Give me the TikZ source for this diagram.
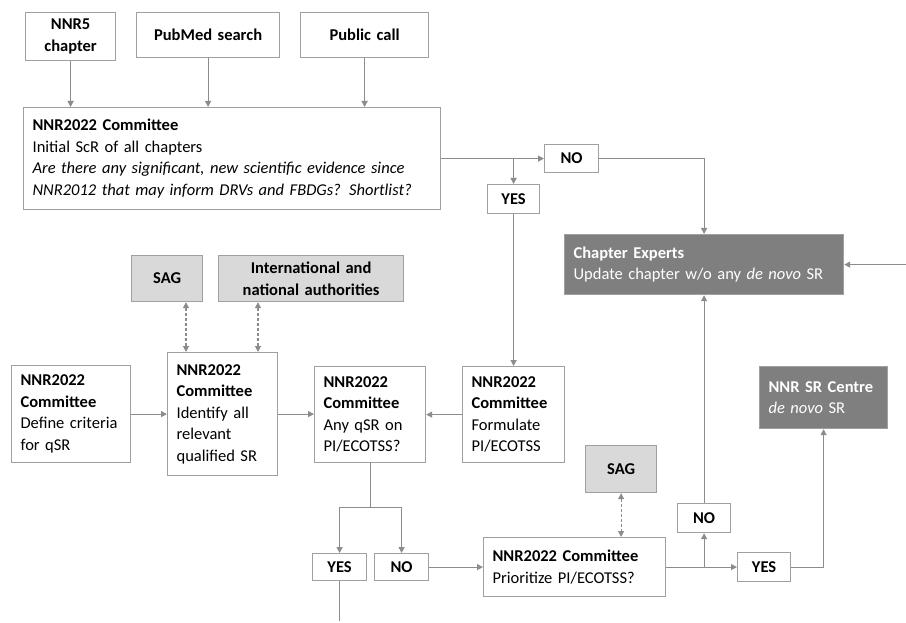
\documentclass[tikz,border=0pt]{standalone}
\usepackage{fontspec}
\setmainfont{Carlito}
\usetikzlibrary{arrows.meta}
\definecolor{linegray}{HTML}{8C8C8C}
\definecolor{bordergray}{HTML}{A0A0A0}
\definecolor{darkfill}{HTML}{7F7F7F}
\definecolor{lightfill}{HTML}{D9D9D9}
\hyphenpenalty=10000
\exhyphenpenalty=10000
\tikzset{
  base/.style={draw=bordergray, line width=1.2pt, inner xsep=9pt, inner ysep=0pt,
    anchor=north west, align=left, font=\fontsize{16.5pt}{21.5pt}\selectfont, text=black},
  plainbox/.style={base, fill=white},
  centerbox/.style={base, fill=white, align=center},
  darkbox/.style={base, fill=darkfill, text=white},
  lightbox/.style={base, fill=lightfill, align=center},
  arr/.style={draw=linegray, line width=1.2pt, -{Triangle[length=6pt,width=6pt]}},
  conn/.style={draw=linegray, line width=1.2pt},
  darr/.style={draw=linegray, line width=1.1pt, dash pattern=on 3pt off 2pt,
    {Triangle[length=6pt,width=6pt]}-{Triangle[length=6pt,width=6pt]}}
}
\newcommand{\bx}[7]{% style, name, x, y, w, h, text
  \pgfmathsetmacro{\bxtw}{#5-18}%
  \node[#1, minimum width=#5pt, minimum height=#6pt, text width=\bxtw pt] (#2) at (#3,#4) {#7};}
\begin{document}
\begin{tikzpicture}[x=1pt,y=-1pt]
\useasboundingbox (0,0) rectangle (906,623);
\fill[white] (0,0) rectangle (906,623);
% top inputs
\bx{centerbox}{nnr5}{25}{12}{90}{48}{\textbf{NNR5}\\\textbf{chapter}}
\bx{centerbox}{pubmed}{136}{12}{143}{45}{\textbf{PubMed search}}
\bx{centerbox}{public}{300}{12}{128}{45}{\textbf{Public call}}
% committee
\bx{plainbox}{comm}{23}{107}{417}{102}{\textbf{NNR2022 Committee}\\Initial ScR of all chapters\\\textit{Are there any significant, new scientific evidence since}\\\textit{NNR2012 that may inform DRVs and FBDGs? Shortlist?}}
\bx{centerbox}{noa}{544}{144}{54}{28}{\textbf{NO}}
\bx{centerbox}{yesa}{487}{184}{52}{29}{\textbf{YES}}
\bx{darkbox}{chap}{564}{234}{279}{60}{\textbf{Chapter Experts}\\Update chapter w/o any \textit{de novo} SR}
% middle row
\bx{lightbox}{saga}{131}{255}{71}{46}{\textbf{SAG}}
\bx{lightbox}{intl}{218}{255}{185}{46}{\textbf{International and}\\\textbf{national authorities}}
\bx{plainbox}{define}{11}{365}{119}{97}{\textbf{NNR2022}\\\textbf{Committee}\\Define criteria\\for qSR}
\bx{plainbox}{ident}{167}{352}{110}{123}{\textbf{NNR2022}\\\textbf{Committee}\\Identify all\\relevant\\qualified SR}
\bx{plainbox}{anyq}{314}{366}{111}{96}{\textbf{NNR2022}\\\textbf{Committee}\\Any qSR on\\PI/ECOTSS?}
\bx{plainbox}{form}{462}{366}{102}{96}{\textbf{NNR2022}\\\textbf{Committee}\\Formulate\\PI/ECOTSS}
\bx{darkbox}{centre}{759}{366}{128}{62}{\textbf{NNR SR Centre}\\\textit{de novo} SR}
% bottom row
\bx{centerbox}{yesb}{312}{553}{54}{27}{\textbf{YES}}
\bx{centerbox}{nob}{374}{553}{54}{27}{\textbf{NO}}
\bx{plainbox}{prio}{483}{537}{182}{59}{\textbf{NNR2022 Committee}\\Prioritize PI/ECOTSS?}
\bx{lightbox}{sagb}{585}{445}{71}{47}{\textbf{SAG}}
\bx{centerbox}{noc}{677}{503}{53}{29}{\textbf{NO}}
\bx{centerbox}{yesc}{737}{552}{53}{29}{\textbf{YES}}
% helper coordinates
\coordinate (sx1) at (186,0);
\coordinate (sx2) at (258,0);
\coordinate (rin) at (906,0);
\coordinate (bot) at (0,621);
% connectors
\draw[arr] (nnr5.south) -- (nnr5.south |- comm.north);
\draw[arr] (pubmed.south) -- (pubmed.south |- comm.north);
\draw[arr] (public.south) -- (public.south |- comm.north);
\draw[conn] (comm.east) -- (comm.east -| yesa.north);
\draw[arr] (comm.east -| yesa.north) -- (comm.east -| noa.west);
\draw[arr] (comm.east -| yesa.north) -- (yesa.north);
\draw[arr] (noa.east) -| (chap.north);
\draw[arr] (chap.east -| rin) -- (chap.east);
\draw[arr] (yesa.south) -- (form.north);
\draw[darr] (saga.south -| sx1) -- (ident.north -| sx1);
\draw[darr] (intl.south -| sx2) -- (ident.north -| sx2);
\draw[arr] (define.east) -- (define.east -| ident.west);
\draw[arr] (ident.east) -- (ident.east -| anyq.west);
\draw[arr] (form.west) -- (form.west -| anyq.east);
\draw[conn] (anyq.south) -- ++(0,44) coordinate (sp);
\draw[arr] (sp) -| (yesb.north);
\draw[arr] (sp) -| (nob.north);
\draw[conn] (yesb.south) -- (yesb.south |- bot);
\draw[arr] (nob.east) -- (nob.east -| prio.west);
\draw[darr] (sagb.south) -- (sagb.south |- prio.north);
\draw[arr] (prio.east) -- (prio.east -| yesc.west);
\draw[arr] (prio.east -| noc.south) -- (noc.south);
\draw[arr] (noc.north) -- (noc.north |- chap.south);
\draw[arr] (yesc.east) -| (centre.south);
\end{tikzpicture}
\end{document}
